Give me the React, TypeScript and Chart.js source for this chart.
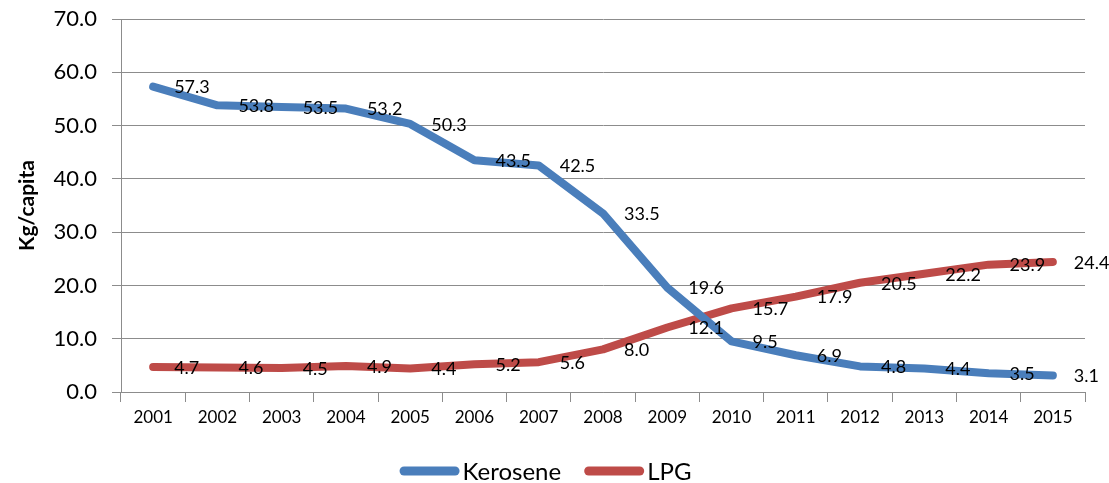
import React, { useEffect, useRef } from 'react';
import { Chart, registerables } from 'chart.js';

Chart.register(...registerables);

const years = ['2001', '2002', '2003', '2004', '2005', '2006', '2007', '2008', '2009', '2010', '2011', '2012', '2013', '2014', '2015'];
const kerosene = [57.3, 53.8, 53.5, 53.2, 50.3, 43.5, 42.5, 33.5, 19.6, 9.5, 6.9, 4.8, 4.4, 3.5, 3.1];
const lpg = [4.7, 4.6, 4.5, 4.9, 4.4, 5.2, 5.6, 8.0, 12.1, 15.7, 17.9, 20.5, 22.2, 23.9, 24.4];
const seriesNames = ['Kerosene', 'LPG'];
const seriesColors = ['#4a7ebb', '#be4b48'];
const yMin = 0;
const yMax = 70;
const yStep = 10;
const yTitle = 'Kg/capita';

const FONT = 'Lato, "Liberation Sans", sans-serif';
const GRID = '#8c8c8c';

const valueLabels = {
  id: 'valueLabels',
  afterDatasetsDraw(chart: any) {
    const ctx = chart.ctx;
    ctx.save();
    ctx.font = `18px ${FONT}`;
    ctx.fillStyle = '#000';
    ctx.textAlign = 'left';
    ctx.textBaseline = 'middle';
    chart.data.datasets.forEach((ds: any, i: number) => {
      const meta = chart.getDatasetMeta(i);
      meta.data.forEach((pt: any, j: number) => {
        ctx.fillText(Number(ds.data[j]).toFixed(1), pt.x + 21, pt.y + 1);
      });
    });
    ctx.restore();
  },
};

const customLegend = {
  id: 'customLegend',
  afterDraw(chart: any) {
    const ctx = chart.ctx;
    ctx.save();
    ctx.font = `24px ${FONT}`;
    const swatch = 60;
    const gapText = 3;
    const gapItem = 23;
    const items = chart.data.datasets.map((ds: any) => ({
      label: ds.label,
      color: ds.borderColor,
      w: ctx.measureText(ds.label).width,
    }));
    const total =
      items.reduce((s: number, it: any) => s + swatch + gapText + it.w, 0) + gapItem * (items.length - 1);
    let x = chart.width / 2 - 9 - total / 2;
    const y = 471;
    items.forEach((it: any) => {
      ctx.strokeStyle = it.color;
      ctx.lineWidth = 9;
      ctx.lineCap = 'round';
      ctx.beginPath();
      ctx.moveTo(x + 4.5, y);
      ctx.lineTo(x + swatch - 4.5, y);
      ctx.stroke();
      x += swatch + gapText;
      ctx.fillStyle = '#000';
      ctx.textAlign = 'left';
      ctx.textBaseline = 'middle';
      ctx.fillText(it.label, x, y + 1);
      x += it.w + gapItem;
    });
    ctx.restore();
  },
};

export default function App() {
  const ref = useRef<HTMLCanvasElement | null>(null);

  useEffect(() => {
    document.body.style.margin = '0';
    if (!ref.current) return;
    const chart = new Chart(ref.current, {
      type: 'line',
      data: {
        labels: years,
        datasets: [
          {
            label: seriesNames[0],
            data: kerosene,
            borderColor: seriesColors[0],
            backgroundColor: seriesColors[0],
            borderWidth: 8,
            pointRadius: 0,
            tension: 0,
            borderJoinStyle: 'round',
            borderCapStyle: 'round',
          },
          {
            label: seriesNames[1],
            data: lpg,
            borderColor: seriesColors[1],
            backgroundColor: seriesColors[1],
            borderWidth: 8,
            pointRadius: 0,
            tension: 0,
            borderJoinStyle: 'round',
            borderCapStyle: 'round',
          },
        ],
      },
      options: {
        animation: false,
        responsive: true,
        maintainAspectRatio: false,
        layout: { padding: { top: 19, right: 24, bottom: 46, left: 0 } },
        plugins: {
          legend: { display: false },
          tooltip: { enabled: false },
        },
        scales: {
          x: {
            type: 'category',
            offset: true,
            grid: { offset: true, drawOnChartArea: false, drawTicks: true, tickLength: 10, color: GRID },
            border: { display: true, color: GRID },
            ticks: { font: { family: FONT, size: 17 }, color: '#000', padding: 5, maxRotation: 0, autoSkip: false },
            afterFit: (s: any) => {
              s.height = 45;
              s.paddingLeft = 0;
              s.paddingRight = 0;
            },
          },
          y: {
            min: yMin,
            max: yMax,
            ticks: {
              stepSize: yStep,
              callback: (v: any) => Number(v).toFixed(1),
              font: { family: FONT, size: 22 },
              color: '#000',
              padding: 15,
            },
            grid: { color: GRID, tickLength: 9 },
            border: { color: GRID },
            title: {
              display: true,
              text: yTitle,
              font: { family: FONT, size: 21, weight: 'bold' },
              color: '#000',
              padding: { top: 15, bottom: 0 },
            },
            afterFit: (s: any) => {
              s.width = 121;
              s.paddingTop = 0;
              s.paddingBottom = 0;
            },
          },
        },
      },
      plugins: [valueLabels, customLegend],
    });
    return () => chart.destroy();
  }, []);

  return (
    <div style={{ width: '1109px', height: '483px', position: 'relative' }}>
      <canvas ref={ref} />
    </div>
  );
}
